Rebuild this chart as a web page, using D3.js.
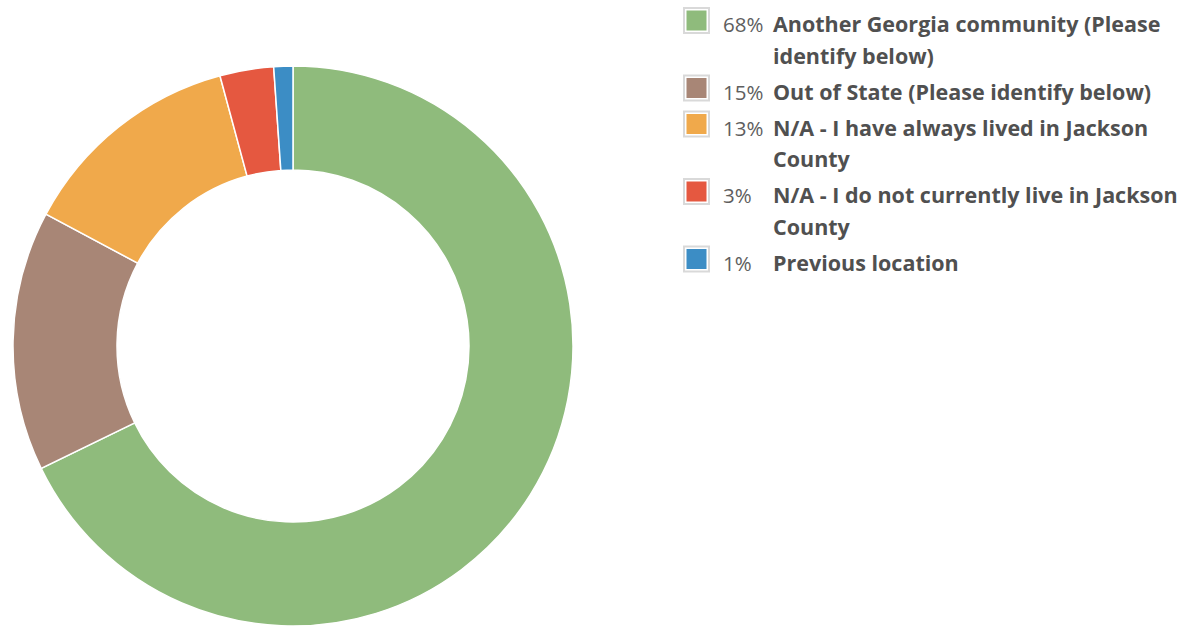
<!DOCTYPE html>
<html>
<head>
<meta charset="utf-8">
<script src="https://cdn.jsdelivr.net/npm/d3@7"></script>
<style>
  body { margin: 0; background: #fff; }
  svg { display: block; }
</style>
</head>
<body>
<div id="chart"></div>
<script>
// answers, in clockwise order from 12 o'clock
const categories = [
  "Another Georgia community (Please identify below)",
  "Out of State (Please identify below)",
  "N/A - I have always lived in Jackson County",
  "N/A - I do not currently live in Jackson County",
  "Previous location"
];
const shares = [67.8, 15.0, 13.0, 3.1, 1.1];
const colors = ["#8fbb7c", "#a88676", "#f0a94b", "#e55840", "#3c8dc5"];

const width = 1187, height = 631;
const cx = 293, cy = 346;
const outerR = 280, innerR = 176;

const svg = d3.select("#chart").append("svg")
  .attr("width", width)
  .attr("height", height);

const data = categories.map((c, i) => ({label: c, value: shares[i], color: colors[i]}));

const pie = d3.pie()
  .sort(null)
  .value(d => d.value);

const arc = d3.arc()
  .innerRadius(innerR)
  .outerRadius(outerR);

const g = svg.append("g")
  .attr("transform", `translate(${cx},${cy})`);

g.selectAll("path")
  .data(pie(data))
  .join("path")
  .attr("d", arc)
  .attr("fill", d => d.data.color)
  .attr("stroke", "#fff")
  .attr("stroke-width", 1.5);

// legend
const legendX = 683, pctX = 723, labelX = 773;
const wrapWidth = 418;
const lineH = 31.5, rowGap = 4.5;
const font = "'Open Sans', sans-serif";

const legend = svg.append("g").attr("class", "legend");
let baseline = 32;

function labelLine(row, y, s) {
  return row.append("text")
    .attr("x", labelX).attr("y", y)
    .attr("font-family", font)
    .attr("font-size", 21.5)
    .attr("font-weight", "bold")
    .attr("fill", "#505050")
    .text(s);
}

data.forEach(d => {
  const row = legend.append("g");

  row.append("rect")
    .attr("x", legendX + 1).attr("y", baseline - 24)
    .attr("width", 25).attr("height", 25)
    .attr("fill", "#fff")
    .attr("stroke", "#d9d9d9")
    .attr("stroke-width", 2);
  row.append("rect")
    .attr("x", legendX + 3.5).attr("y", baseline - 21.5)
    .attr("width", 20).attr("height", 20)
    .attr("fill", d.color);

  row.append("text")
    .attr("x", pctX).attr("y", baseline)
    .attr("font-family", font)
    .attr("font-size", 20.5)
    .attr("fill", "#5e5e5e")
    .text(Math.round(d.value) + "%");

  // word wrap the label
  const words = d.label.split(" ");
  let line = [];
  let t = labelLine(row, baseline, "");
  words.forEach(w => {
    line.push(w);
    t.text(line.join(" "));
    if (t.node().getComputedTextLength() > wrapWidth && line.length > 1) {
      line.pop();
      t.text(line.join(" "));
      line = [w];
      baseline += lineH;
      t = labelLine(row, baseline, w);
    }
  });
  baseline += lineH + rowGap;
});
</script>
</body>
</html>
